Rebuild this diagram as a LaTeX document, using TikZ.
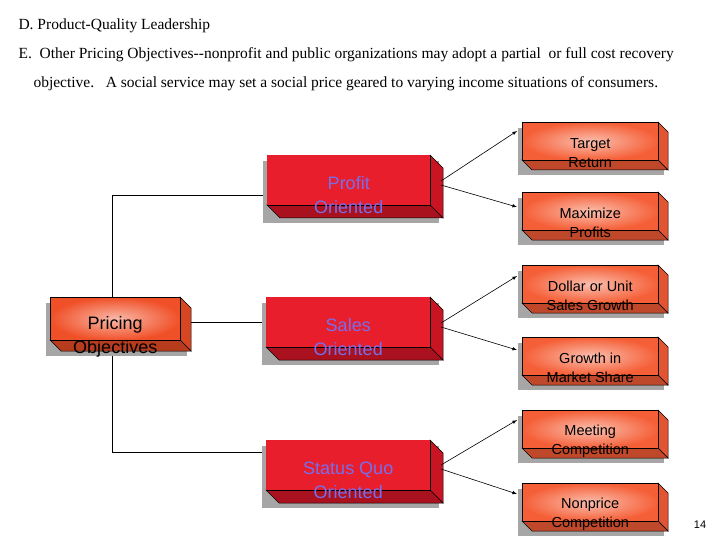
\documentclass[tikz,border=0pt]{standalone}
\usepackage{fontspec}
\setmainfont{Liberation Serif}
\newfontfamily\arialf{Liberation Sans}
\begin{document}
\begin{tikzpicture}[x=1pt,y=-1pt,
  lbl/.style={font=\arialf\fontsize{18}{24}\selectfont,align=center,text={rgb,255:red,120;green,110;blue,235}},
  rlbl/.style={font=\arialf\fontsize{14.5}{19}\selectfont,align=center},
  conn/.style={black,line width=0.6pt},
  arr/.style={conn,-latex}]
\useasboundingbox (0,0) rectangle (720,540);
\newcommand\bevbox[8]{%
  \fill[gray!70] (#2-4,#3+6) rectangle (#4+#6-4,#5+#6+5);
  \filldraw[fill=#8,draw=black,line width=0.5pt] (#4,#3) -- (#4+#6,#3+#6) -- (#4+#6,#5+#6) -- (#4,#5) -- cycle;
  \filldraw[fill=#8!85!black,draw=black,line width=0.5pt] (#2,#5) -- (#4,#5) -- (#4+#6,#5+#6) -- (#2+#6,#5+#6) -- cycle;
  \node[draw=black,line width=0.5pt,inner sep=0pt,minimum width=#4-#2,minimum height=#5-#3,anchor=north west,
    inner color=#7!40!white,outer color=#7] (#1) at (#2,#3) {};
}
\definecolor{redA}{RGB}{232,30,45}
\definecolor{redD}{RGB}{200,20,35}
\definecolor{orA}{RGB}{240,80,40}
\definecolor{orD}{RGB}{215,70,35}
\definecolor{rbA}{RGB}{245,95,55}
\definecolor{rbD}{RGB}{225,85,50}
\node[anchor=west,font=\fontsize{15.5}{17}\selectfont] (t1) at (15,26) {D. Product-Quality Leadership};
\node[anchor=west,font=\fontsize{15.5}{17}\selectfont] (t2) at (15,55) {E.\ \ Other Pricing Objectives{-}{-}nonprofit and public organizations may adopt a partial\ \ or full cost recovery};
\node[anchor=west,font=\fontsize{15.5}{17}\selectfont] (t3) at (30,84) {objective.\ \ \ A social service may set a social price geared to varying income situations of consumers.};
\coordinate (c1) at (112,195);
\coordinate (c2) at (112,452);
\draw[conn] (112,297) -- (c1) -- (266,195);
\draw[conn] (112,352) -- (c2) -- (266,452);
\draw[conn] (190,322) -- (266,322);
\bevbox{po}{50}{297}{180}{340}{11}{orA}{orD}
\bevbox{pr}{267}{155}{430}{205}{13}{redA}{redD}
\bevbox{sa}{266}{297}{430}{347}{13}{redA}{redD}
\bevbox{sq}{266}{440}{430}{490}{13}{redA}{redD}
\foreach \n in {pr,sa,sq} \fill[redA] ([shift={(0.3,-0.3)}]\n.south west) rectangle ([shift={(-0.3,0.3)}]\n.north east);
\node[font=\arialf\fontsize{18}{24}\selectfont,align=center] at ([yshift=-18]po) {Pricing\\Objectives};
\node[lbl] at ([yshift=-15]pr) {Profit\\Oriented};
\node[lbl] at ([yshift=-15]sa) {Sales\\Oriented};
\node[lbl] at ([yshift=-15]sq) {Status Quo\\Oriented};
\bevbox{r1}{522}{122}{658}{160}{10}{rbA}{rbD}
\bevbox{r2}{522}{192}{658}{230}{10}{rbA}{rbD}
\bevbox{r3}{522}{265}{658}{303}{10}{rbA}{rbD}
\bevbox{r4}{522}{337}{658}{375}{10}{rbA}{rbD}
\bevbox{r5}{522}{410}{658}{448}{10}{rbA}{rbD}
\bevbox{r6}{522}{483}{658}{521}{10}{rbA}{rbD}
\node[rlbl] at ([yshift=-12]r1) {Target\\Return};
\node[rlbl] at ([yshift=-12]r2) {Maximize\\Profits};
\node[rlbl] at ([yshift=-12]r3) {Dollar or Unit\\Sales Growth};
\node[rlbl] at ([yshift=-12]r4) {Growth in\\Market Share};
\node[rlbl] at ([yshift=-12]r5) {Meeting\\Competition};
\node[rlbl] at ([yshift=-12]r6) {Nonprice\\Competition};
\draw[arr] (441,181) -- (517,131);
\draw[arr] (441,185) -- (517,207);
\draw[arr] (441,323) -- (517,276);
\draw[arr] (441,327) -- (517,350);
\draw[arr] (441,465) -- (517,420);
\draw[arr] (441,469) -- (517,494);
\node[font=\arialf\fontsize{11}{13}\selectfont] (pg) at (700,525) {14};
\end{tikzpicture}
\end{document}
